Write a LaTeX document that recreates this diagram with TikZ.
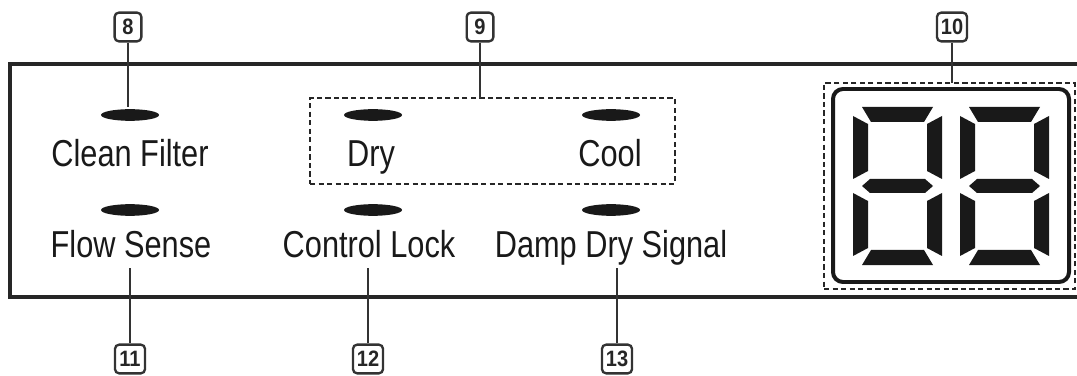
\documentclass[tikz,border=0pt]{standalone}
\usepackage{fontspec}
\setmainfont{Liberation Sans}[FakeStretch=0.82]
\newfontfamily\badgefont{Liberation Sans}[FakeStretch=0.9]
\usetikzlibrary{shapes.geometric}
\tikzset{
  panel/.style={draw=black!85, line width=3.4pt},
  led/.style={ellipse, fill=black!90, inner sep=0pt, outer sep=0pt, minimum width=1.74cm, minimum height=0.35cm},
  lbl/.style={anchor=base, inner sep=0pt, text=black!90, font=\fontsize{32}{36}\selectfont},
  badge/.style={draw=black!80, line width=2pt, rounded corners=3.5pt, minimum width=0.8cm, minimum height=0.86cm, inner sep=0pt, text=black!85, font=\badgefont\bfseries\fontsize{19}{20}\selectfont},
  lead/.style={draw=black!80, line width=1.3pt},
  grp/.style={draw=black!85, line width=1.5pt, dash pattern=on 4.5pt off 2.8pt, inner sep=0pt, outer sep=0pt},
  lcd/.style={draw=black!90, line width=3.4pt, rounded corners=0.3cm, inner sep=0pt},
  seg/.style={fill=black!90}
}

\begin{document}
\begin{tikzpicture}[x=0.03cm, y=-0.03cm]
  \useasboundingbox (0,0) rectangle (1077,376);

  \draw[panel] (1080,64) -| (10,297) -- (1080,297);

  % indicators
  \node[led] (ledfilter) at (130,115) {};
  \node[led] (leddry) at (373,115) {};
  \node[led] (ledcool) at (611,115) {};
  \node[led] (ledflow) at (130,210) {};
  \node[led] (ledlock) at (373,210) {};
  \node[led] (leddamp) at (611,210) {};

  \node[lbl] (txtfilter) at (130,167) {Clean Filter};
  \node[lbl] (txtdry) at (371,167) {Dry};
  \node[lbl] (txtcool) at (610,167) {Cool};
  \node[lbl] (txtflow) at (131,257) {Flow Sense};
  \node[lbl] (txtlock) at (369,257) {Control Lock};
  \node[lbl] (txtdamp) at (611,257) {Damp Dry Signal};

  \node[grp, minimum width=10.95cm, minimum height=2.58cm] (mode) at (492.5,141) {};

  % display
  \node[grp, minimum width=7.53cm, minimum height=6.18cm] (disp) at (949.5,186) {};
  \node[lcd, minimum width=7.08cm, minimum height=5.79cm] (screen) at (951,185.5) {};
  \foreach \dx in {853,960} {
    \begin{scope}[shift={(\dx,107)}]
      \fill[seg] (9,0) -- (80,0) -- (71,15) -- (18,15) -- cycle;
      \fill[seg] (0,9) -- (15,17) -- (15,64) -- (0,72) -- cycle;
      \fill[seg] (89,9) -- (74,17) -- (74,64) -- (89,72) -- cycle;
      \fill[seg] (9,79) -- (17,72) -- (72,72) -- (80,79) -- (72,86) -- (17,86) -- cycle;
      \fill[seg] (0,86) -- (15,94) -- (15,141) -- (0,149) -- cycle;
      \fill[seg] (89,86) -- (74,94) -- (74,141) -- (89,149) -- cycle;
      \fill[seg] (18,143) -- (71,143) -- (80,158) -- (9,158) -- cycle;
    \end{scope}
  }

  % callouts
  \node[badge] (b8) at (128,27) {8};
  \node[badge] (b9) at (480,27) {9};
  \node[badge, minimum width=0.9cm] (b10) at (952,27) {10};
  \node[badge, minimum width=0.9cm] (b11) at (130,359) {11};
  \node[badge, minimum width=0.9cm] (b12) at (368,359) {12};
  \node[badge, minimum width=0.9cm] (b13) at (617,359) {13};

  \coordinate (e8) at (128,107);
  \coordinate (e11) at (130,268);
  \coordinate (e12) at (368,268);
  \coordinate (e13) at (617,268);

  \draw[lead] (b8) -- (e8);
  \draw[lead] (b9) -- (b9 |- mode.north);
  \draw[lead] (b10) -- (b10 |- disp.north);
  \draw[lead] (b11) -- (e11);
  \draw[lead] (b12) -- (e12);
  \draw[lead] (b13) -- (e13);
\end{tikzpicture}
\end{document}
